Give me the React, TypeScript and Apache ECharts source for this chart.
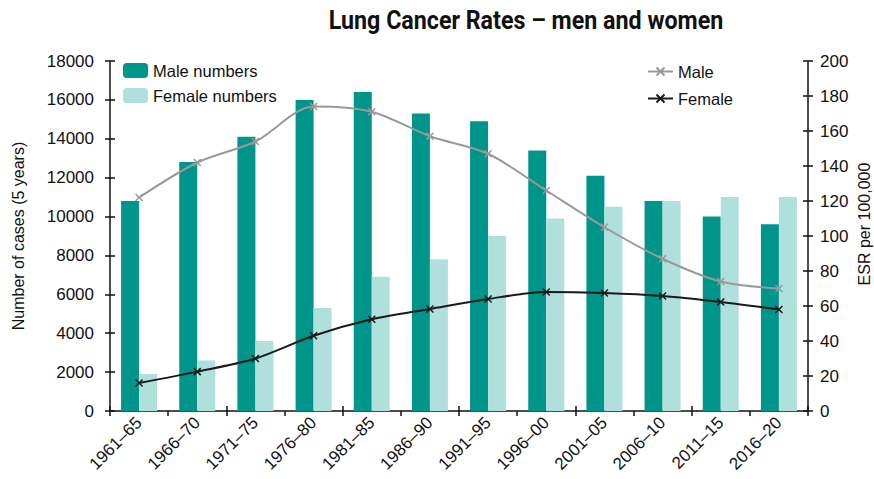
import React, { useEffect, useRef } from "react";
import * as echarts from "echarts";

const categories = ["1961–65", "1966–70", "1971–75", "1976–80", "1981–85", "1986–90", "1991–95", "1996–00", "2001–05", "2006–10", "2011–15", "2016–20"];
const maleNumbers = [10800, 12800, 14100, 16000, 16400, 15300, 14900, 13400, 12100, 10800, 10000, 9600];
const femaleNumbers = [1900, 2600, 3600, 5300, 6900, 7800, 9000, 9900, 10500, 10800, 11000, 11000];
const maleRate = [122, 142, 154, 174, 171, 157, 147, 126, 105, 87, 74, 70];
const femaleRate = [16, 22.5, 30, 43, 52.4, 58.3, 64, 68, 67.4, 65.7, 62.3, 58];
const leftTicks = { min: 0, max: 18000, interval: 2000 };
const rightTicks = { min: 0, max: 200, interval: 20 };
const titleText = "Lung Cancer Rates – men and women";
const rightAxisName = "ESR per 100,000";

const FONT = "Liberation Sans";
const CROSS = "path://M0,0 L10,10 M10,0 L0,10";

export default function App() {
  const ref = useRef<HTMLDivElement>(null);
  useEffect(() => {
    if (!ref.current) return;
    const chart = echarts.init(ref.current, null, { renderer: "svg" });
    const axisLine = { show: true, lineStyle: { color: "#111", width: 1.5 } };
    const tickOut = { show: true, length: 5, lineStyle: { color: "#111", width: 1.5 } };
    const tickIn = { show: true, inside: true, length: 5, lineStyle: { color: "#111", width: 1.5 } };
    const label = { color: "#111", fontFamily: FONT, fontSize: 17 };
    chart.setOption({
      animation: false,
      graphic: [
        {
          type: "text",
          x: 526,
          y: 8,
          scaleX: 0.93,
          style: {
            text: titleText,
            textAlign: "center",
            textVerticalAlign: "top",
            fontFamily: "Roboto",
            fontWeight: "bold",
            fontSize: 25,
            fill: "#111",
          },
        },
        {
          type: "text",
          x: 864,
          y: 224,
          rotation: Math.PI / 2,
          style: {
            text: rightAxisName,
            textAlign: "center",
            textVerticalAlign: "middle",
            fontFamily: FONT,
            fontSize: 16,
            fill: "#111",
          },
        },
      ],
      legend: [
        {
          data: ["Male numbers", "Female numbers"],
          orient: "vertical",
          left: 123,
          top: 62,
          padding: 0,
          itemWidth: 25,
          itemHeight: 15,
          itemGap: 8,
          textStyle: { fontFamily: FONT, fontSize: 16.5, color: "#111" },
        },
        {
          data: ["Male", "Female"],
          orient: "vertical",
          left: 647,
          top: 63,
          padding: 0,
          itemWidth: 25,
          itemHeight: 10,
          itemGap: 10,
          textStyle: { fontFamily: FONT, fontSize: 16.5, color: "#111" },
        },
      ],
      grid: { left: 110, right: 66, top: 61, bottom: 68, outerBoundsMode: "none", containLabel: false },
      xAxis: [
        {
          type: "category",
          data: categories,
          axisLine,
          axisTick: { ...tickOut, alignWithLabel: false },
          axisLabel: { ...label, rotate: 45, margin: 9, interval: 0 },
        },
        {
          type: "category",
          data: categories,
          position: "bottom",
          axisLine: { show: false },
          axisTick: { ...tickIn },
          axisLabel: { show: false },
        },
      ],
      yAxis: [
        {
          type: "value",
          ...leftTicks,
          name: "Number of cases (5 years)",
          nameLocation: "middle",
          nameGap: 84,
          nameTextStyle: { fontFamily: FONT, fontSize: 16, color: "#111" },
          axisLine,
          axisTick: tickOut,
          axisLabel: { ...label, margin: 16, formatter: (v: number) => String(v) },
          splitLine: { show: false },
        },
        {
          type: "value",
          ...rightTicks,
          position: "right",
          axisLine,
          axisTick: tickOut,
          axisLabel: { ...label, margin: 12 },
          splitLine: { show: false },
        },
        {
          type: "value",
          ...leftTicks,
          position: "left",
          axisLine: { show: false },
          axisTick: tickIn,
          axisLabel: { show: false },
          splitLine: { show: false },
        },
        {
          type: "value",
          ...rightTicks,
          position: "right",
          axisLine: { show: false },
          axisTick: tickIn,
          axisLabel: { show: false },
          splitLine: { show: false },
        },
      ],
      series: [
        {
          name: "Male numbers",
          type: "bar",
          data: maleNumbers,
          barWidth: 18,
          barGap: "0%",
          itemStyle: { color: "#00958a" },
        },
        {
          name: "Female numbers",
          type: "bar",
          data: femaleNumbers,
          barWidth: 18,
          barGap: "0%",
          itemStyle: { color: "#b0e0dc" },
        },
        {
          name: "Male",
          type: "line",
          yAxisIndex: 1,
          data: maleRate,
          smooth: 0.3,
          symbol: CROSS,
          symbolSize: 7,
          lineStyle: { color: "#999", width: 2 },
          itemStyle: { color: "#999", borderColor: "#999", borderWidth: 1.5 },
        },
        {
          name: "Female",
          type: "line",
          yAxisIndex: 1,
          data: femaleRate,
          smooth: 0.3,
          symbol: CROSS,
          symbolSize: 7,
          lineStyle: { color: "#1a1a1a", width: 2 },
          itemStyle: { color: "#1a1a1a", borderColor: "#1a1a1a", borderWidth: 1.5 },
        },
      ],
    });
    return () => chart.dispose();
  }, []);
  return <div ref={ref} style={{ width: 874, height: 479, position: "absolute", left: 0, top: 0, background: "#fff" }} />;
}
